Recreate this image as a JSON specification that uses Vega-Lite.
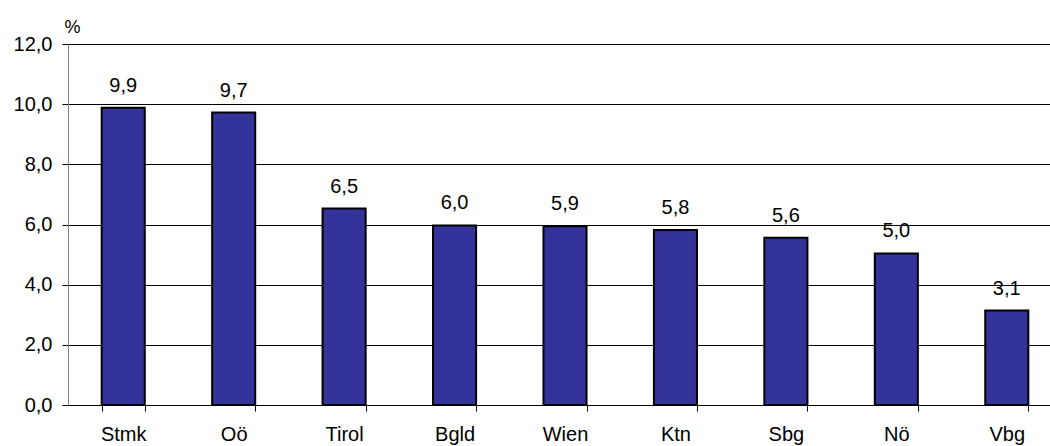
{
  "$schema": "https://vega.github.io/schema/vega-lite/v6.json",
  "width": 994,
  "height": 361,
  "autosize": {"type": "none"},
  "padding": {"left": 68, "top": 44, "right": 0, "bottom": 41},
  "background": "white",
  "config": {
    "locale": {"number": {"decimal": ",", "thousands": ".", "grouping": [3], "currency": ["", " €"]}},
    "font": "Liberation Sans",
    "view": {"stroke": null}
  },
  "data": {
    "values": [
      {"region": "Stmk", "value": 9.88},
      {"region": "Oö", "value": 9.72},
      {"region": "Tirol", "value": 6.53},
      {"region": "Bgld", "value": 5.97},
      {"region": "Wien", "value": 5.94},
      {"region": "Ktn", "value": 5.82},
      {"region": "Sbg", "value": 5.56},
      {"region": "Nö", "value": 5.04},
      {"region": "Vbg", "value": 3.14}
    ]
  },
  "encoding": {
    "x": {
      "field": "region",
      "type": "nominal",
      "sort": null,
      "scale": {"paddingInner": 0.61, "paddingOuter": 0.305},
      "axis": {
        "title": null,
        "labelAngle": 0,
        "labelFont": "Liberation Sans",
        "labelFontSize": 20,
        "labelColor": "black",
        "labelPadding": 13,
        "tickBand": "extent",
        "tickSize": 6,
        "tickColor": "black",
        "domainColor": "black",
        "domainWidth": 1,
        "grid": false
      }
    },
    "y": {
      "field": "value",
      "type": "quantitative",
      "scale": {"domain": [0, 12], "nice": false},
      "axis": {
        "values": [0, 2, 4, 6, 8, 10, 12],
        "format": ".1f",
        "title": "%",
        "titleAngle": 0,
        "titleX": 4,
        "titleY": -12,
        "titleAlign": "center",
        "titleBaseline": "alphabetic",
        "titleFont": "Liberation Sans",
        "titleFontSize": 18,
        "titleFontWeight": "normal",
        "titleColor": "black",
        "labelFont": "Liberation Sans",
        "labelFontSize": 20,
        "labelColor": "black",
        "labelPadding": 10,
        "tickSize": 6,
        "tickColor": "black",
        "domainColor": "#808080",
        "grid": true,
        "gridColor": "black",
        "gridWidth": 1
      }
    }
  },
  "layer": [
    {
      "mark": {"type": "bar", "color": "#333399", "stroke": "black", "strokeWidth": 2}
    },
    {
      "mark": {"type": "text", "baseline": "alphabetic", "dy": -16, "fontSize": 20, "color": "black", "font": "Liberation Sans"},
      "encoding": {"text": {"field": "value", "type": "quantitative", "format": ".1f"}}
    }
  ]
}
